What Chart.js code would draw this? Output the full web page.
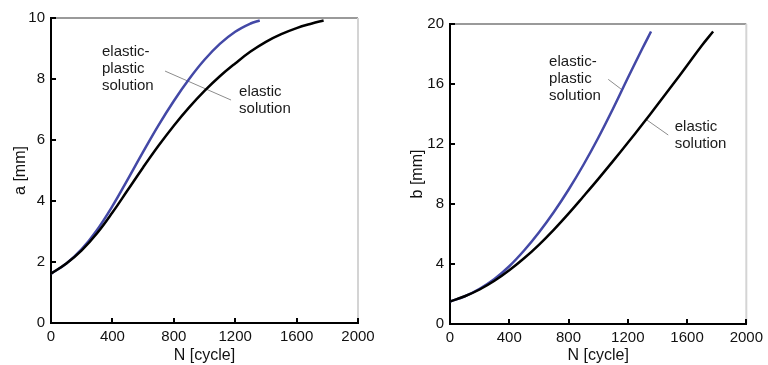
<!DOCTYPE html>
<html>
<head>
<meta charset="utf-8">
<script src="https://cdn.jsdelivr.net/npm/chart.js@4.4.1/dist/chart.umd.min.js"></script>
<style>
  html, body { margin: 0; padding: 0; background: #fff; }
  .panel { position: absolute; top: 0; width: 384px; height: 365px; }
</style>
</head>
<body>
<div class="panel" style="left:0"><canvas id="chartA"></canvas></div>
<div class="panel" style="left:384px"><canvas id="chartB"></canvas></div>
<script>
// x ticks shared by both panels
const nTicks = [0, 400, 800, 1200, 1600, 2000];

// left panel: crack depth a [mm]
const aPlasticN = [0, 100, 200, 300, 400, 500, 600, 700, 800, 900, 1000, 1100, 1200, 1300, 1360];
const aPlastic  = [1.62, 1.95, 2.42, 3.05, 3.83, 4.71, 5.61, 6.48, 7.28, 8.0, 8.63, 9.15, 9.55, 9.82, 9.92];
const aElasticN = [0, 100, 200, 300, 400, 500, 600, 700, 800, 900, 1000, 1100, 1200, 1300, 1400, 1500, 1600, 1700, 1776];
const aElastic  = [1.62, 1.95, 2.38, 2.94, 3.62, 4.36, 5.1, 5.81, 6.47, 7.07, 7.61, 8.09, 8.51, 8.9, 9.22, 9.47, 9.67, 9.82, 9.92];
const aTicks = [0, 2, 4, 6, 8, 10];

// right panel: crack length b [mm]
const bPlasticN = [0, 100, 200, 300, 400, 500, 600, 700, 800, 900, 1000, 1100, 1200, 1300, 1357];
const bPlastic  = [1.5, 1.85, 2.35, 3.0, 3.85, 4.9, 6.1, 7.45, 8.95, 10.6, 12.4, 14.35, 16.4, 18.4, 19.5];
const bElasticN = [0, 100, 200, 300, 400, 500, 600, 700, 800, 900, 1000, 1100, 1200, 1300, 1400, 1500, 1600, 1700, 1776];
const bElastic  = [1.5, 1.85, 2.3, 2.88, 3.58, 4.38, 5.28, 6.28, 7.36, 8.5, 9.66, 10.86, 12.08, 13.33, 14.61, 15.91, 17.23, 18.57, 19.5];
const bTicks = [0, 4, 8, 12, 16, 20];

const FONT = "'Liberation Sans', Arial, sans-serif";
const BLUE = '#4348a6';

const toPoints = (xs, ys) => xs.map((v, i) => ({ x: v, y: ys[i] }));

// frame: gray top/right edges plus inward tick marks on the black axes
const framePlugin = {
  id: 'frame',
  beforeDatasetsDraw(chart) {
    const { ctx, chartArea: ca, scales: { x, y } } = chart;
    ctx.save();
    ctx.lineWidth = 2;
    ctx.strokeStyle = '#9a9a9a';
    ctx.beginPath(); ctx.moveTo(ca.left, ca.top); ctx.lineTo(ca.right, ca.top); ctx.stroke();
    ctx.strokeStyle = '#d4d4d4';
    ctx.beginPath(); ctx.moveTo(ca.right, ca.top); ctx.lineTo(ca.right, ca.bottom); ctx.stroke();
    ctx.strokeStyle = '#000';
    x.ticks.forEach(t => {
      const px = Math.round(x.getPixelForValue(t.value));
      ctx.beginPath(); ctx.moveTo(px, ca.bottom); ctx.lineTo(px, ca.bottom - 5); ctx.stroke();
    });
    y.ticks.forEach(t => {
      const py = Math.round(y.getPixelForValue(t.value));
      ctx.beginPath(); ctx.moveTo(ca.left, py); ctx.lineTo(ca.left + 5, py); ctx.stroke();
    });
    ctx.restore();
  }
};

// text notes and their thin leader lines
const notesPlugin = {
  id: 'notes',
  beforeDatasetsDraw(chart, args, opts) {
    const { ctx, scales: { x, y } } = chart;
    ctx.save();
    ctx.strokeStyle = '#8c8c8c';
    ctx.lineWidth = 1;
    (opts.leaders || []).forEach(l => {
      ctx.beginPath();
      ctx.moveTo(x.getPixelForValue(l[0]), y.getPixelForValue(l[1]));
      ctx.lineTo(x.getPixelForValue(l[2]), y.getPixelForValue(l[3]));
      ctx.stroke();
    });
    ctx.restore();
  },
  afterDatasetsDraw(chart, args, opts) {
    const { ctx, scales: { x, y } } = chart;
    ctx.save();
    ctx.fillStyle = '#1a1a1a';
    ctx.font = '15px ' + FONT;
    ctx.textAlign = 'left';
    ctx.textBaseline = 'middle';
    (opts.labels || []).forEach(n => {
      const px = x.getPixelForValue(n.x);
      const py = y.getPixelForValue(n.y);
      n.text.forEach((t, i) => ctx.fillText(t, px, py + i * 17));
    });
    ctx.restore();
  }
};

function makeChart(id, cfg) {
  return new Chart(document.getElementById(id), {
    type: 'line',
    data: {
      datasets: [
        { data: toPoints(cfg.elN, cfg.el), borderColor: '#000', borderWidth: 2.5 },
        { data: toPoints(cfg.plN, cfg.pl), borderColor: BLUE, borderWidth: 2.5 }
      ]
    },
    options: {
      responsive: true,
      maintainAspectRatio: false,
      animation: false,
      layout: { padding: cfg.padding },
      elements: { point: { radius: 0 }, line: { tension: 0.4, fill: false } },
      plugins: {
        legend: { display: false },
        tooltip: { enabled: false },
        notes: { labels: cfg.labels, leaders: cfg.leaders }
      },
      scales: {
        x: {
          type: 'linear',
          min: 0,
          max: 2000,
          afterBuildTicks: s => { s.ticks = nTicks.map(v => ({ value: v })); },
          afterFit: s => { s.height = cfg.xHeight; },
          ticks: { font: { family: FONT, size: 15 }, color: '#111', padding: 5, maxRotation: 0, callback: v => String(v) },
          grid: { display: false, drawTicks: false },
          border: { color: '#000', width: 2 },
          title: { display: true, text: 'N [cycle]', color: '#111', font: { family: FONT, size: 16 }, padding: { top: 0, bottom: 0 } }
        },
        y: {
          type: 'linear',
          min: 0,
          max: cfg.yTicks[cfg.yTicks.length - 1],
          afterBuildTicks: s => { s.ticks = cfg.yTicks.map(v => ({ value: v })); },
          afterFit: s => { s.width = cfg.yWidth; },
          ticks: { font: { family: FONT, size: 15 }, color: '#111', padding: 6, callback: v => String(v) },
          grid: { display: false, drawTicks: false },
          border: { color: '#000', width: 2 },
          title: { display: true, text: cfg.yTitle, color: '#111', font: { family: FONT, size: 16 }, padding: { top: cfg.yTitlePad, bottom: 0 } }
        }
      }
    },
    plugins: [framePlugin, notesPlugin]
  });
}

makeChart('chartA', {
  elN: aElasticN, el: aElastic, plN: aPlasticN, pl: aPlastic,
  yTicks: aTicks, yTitle: 'a [mm]', yWidth: 51, yTitlePad: 11, xHeight: 42,
  padding: { left: 0, right: 26, top: 18, bottom: 0 },
  labels: [
    { x: 332, y: 8.89, text: ['elastic-', 'plastic', 'solution'] },
    { x: 1225, y: 7.57, text: ['elastic', 'solution'] }
  ],
  leaders: [[743, 8.26, 1173, 7.31]]
});

makeChart('chartB', {
  elN: bElasticN, el: bElastic, plN: bPlasticN, pl: bPlastic,
  yTicks: bTicks, yTitle: 'b [mm]', yWidth: 66, yTitlePad: 24, xHeight: 41,
  padding: { left: 0, right: 17, top: 24, bottom: 0 },
  labels: [
    { x: 669, y: 17.47, text: ['elastic-', 'plastic', 'solution'] },
    { x: 1517, y: 13.11, text: ['elastic', 'solution'] }
  ],
  leaders: [[1068, 16.31, 1163, 15.6], [1329, 13.6, 1473, 12.6]]
});
</script>
</body>
</html>
